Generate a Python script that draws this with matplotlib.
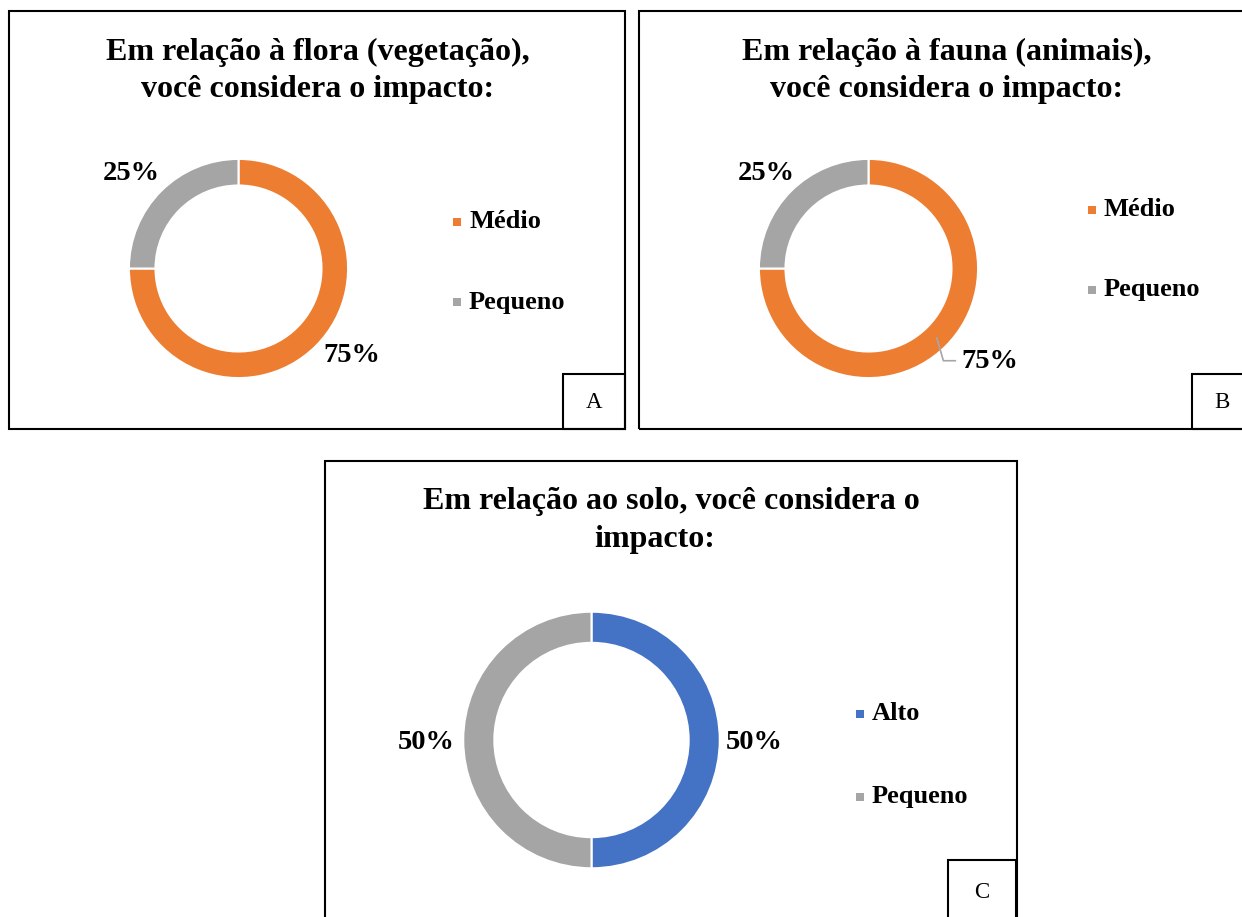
import matplotlib
matplotlib.use("Agg")
import matplotlib.pyplot as plt
from matplotlib.patches import Rectangle
from matplotlib.lines import Line2D

plt.rcParams["font.family"] = ["Liberation Serif", "DejaVu Serif"]

# survey answers, one donut per question
titles = [
    ["Em relação à flora (vegetação),", "você considera o impacto:"],
    ["Em relação à fauna (animais),", "você considera o impacto:"],
    ["Em relação ao solo, você considera o", "impacto:"],
]
panel_tags = ["A", "B", "C"]

flora_labels = ["Médio", "Pequeno"]
flora_values = [75, 25]

fauna_labels = ["Médio", "Pequeno"]
fauna_values = [75, 25]

solo_labels = ["Alto", "Pequeno"]
solo_values = [50, 50]

colors = {
    "Alto": "#4472C4",
    "Médio": "#ED7D31",
    "Pequeno": "#A5A5A5",
}

W, H = 1242, 917
fig = plt.figure(figsize=(W / 100, H / 100), dpi=100)


def fx(x):
    return x / W


def fy(y):
    return 1 - y / H


def box(x0, y0, x1, y1):
    fig.add_artist(Rectangle((fx(x0), fy(y1)), fx(x1) - fx(x0), fy(y0) - fy(y1),
                             transform=fig.transFigure, fill=False,
                             edgecolor="black", linewidth=1.5, clip_on=False))


# layout of each panel in pixels
panels = [
    dict(frame=(8.5, 11, 624.5, 429), tag_box=(563, 374), tag_xy=(594, 403),
         title_x=318, title_y=(52, 90), center=(238.5, 268.5), r=108.5,
         label_pos=[(1.04, -0.80), (-0.99, 0.88)],
         legend_x=457, legend_y=(222, 302), leader=None),
    dict(frame=(639, 11, 1256, 429), tag_box=(1192, 374), tag_xy=(1222, 403),
         title_x=947, title_y=(52, 90), center=(868.5, 268.5), r=108.5,
         label_pos=[(1.12, -0.86), (-0.94, 0.88)],
         legend_x=1092, legend_y=(210, 290),
         leader=[(0.63, -0.64), (0.69, -0.85), (0.80, -0.85)]),
    dict(frame=(325, 461, 1016.5, 930), tag_box=(948, 860), tag_xy=(982, 892),
         title_x=671, title_y=(502, 540), center=(591.5, 740), r=127,
         label_pos=[(1.28, -0.02), (-1.30, -0.02)],
         legend_x=860, legend_y=(714, 797), leader=None),
]

datasets = [
    (flora_labels, flora_values),
    (fauna_labels, fauna_values),
    (solo_labels, solo_values),
]

for p, (labels, values), title, tag in zip(panels, datasets, titles, panel_tags):
    x0, y0, x1, y1 = p["frame"]
    box(x0, y0, x1, y1)
    tx, ty = p["tag_box"]
    box(tx, ty, x1, y1)
    fig.text(fx(p["tag_xy"][0]), fy(p["tag_xy"][1]), tag, fontsize=16.5,
             ha="center", va="center")

    # title, one line at a time
    if tag == "C":
        line_x = [p["title_x"], 655]
    else:
        line_x = [p["title_x"], p["title_x"]]
    for line, lx, ly in zip(title, line_x, p["title_y"]):
        fig.text(fx(lx), fy(ly), line, fontsize=23, fontweight="bold",
                 ha="center", va="center")

    cx, cy = p["center"]
    r = p["r"]
    ax = fig.add_axes([fx(cx - r), fy(cy + r), 2 * r / W, 2 * r / H])
    ax.pie(values, colors=[colors[c] for c in labels], startangle=90,
           counterclock=False, radius=1.01,
           wedgeprops=dict(width=0.245, edgecolor="white", linewidth=1.5))
    ax.set_xlim(-1, 1)
    ax.set_ylim(-1, 1)
    ax.set_aspect("equal")
    ax.axis("off")

    for v, (lx, ly) in zip(values, p["label_pos"]):
        ax.text(lx, ly, f"{v}%", fontsize=20.5, fontweight="bold",
                ha="center", va="center", clip_on=False)

    if p["leader"] is not None:
        xs, ys = zip(*p["leader"])
        ax.add_line(Line2D(xs, ys, color="#A6A6A6", linewidth=1.2,
                           clip_on=False))

    # legend: small square + name
    for name, ly in zip(labels, p["legend_y"]):
        s = 8.5
        lx = p["legend_x"]
        fig.add_artist(Rectangle((fx(lx - s / 2), fy(ly + s / 2)), s / W, s / H,
                                 transform=fig.transFigure,
                                 facecolor=colors[name], edgecolor="none"))
        fig.text(fx(lx + 12), fy(ly), name, fontsize=19, fontweight="bold",
                 ha="left", va="center")

fig.savefig("out.png", dpi=100)
